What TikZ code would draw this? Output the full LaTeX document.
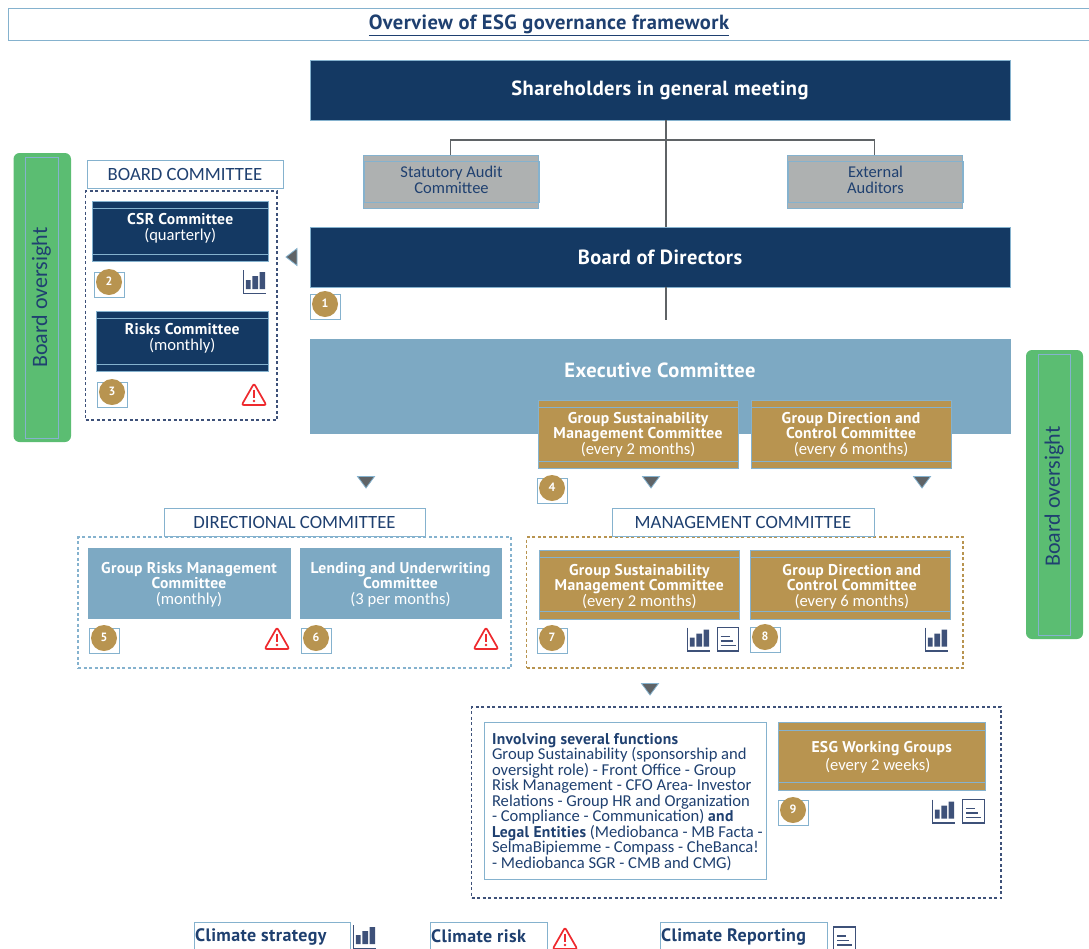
\documentclass[tikz,border=0pt]{standalone}
\usepackage{fontspec}
\setmainfont{PT Sans}
\newfontfamily\bfs[LetterSpace=2]{PT Sans Bold}
\newfontfamily\lts{Carlito}
\definecolor{navyc}{HTML}{143963}
\definecolor{bluec}{HTML}{7DA9C3}
\definecolor{goldc}{HTML}{B89450}
\definecolor{greyc}{HTML}{AEB1B1}
\definecolor{greenc}{HTML}{5BBD72}
\definecolor{textc}{HTML}{1F4070}
\definecolor{bordc}{HTML}{85B2CE}
\definecolor{iconc}{HTML}{3E5179}
\definecolor{redc}{HTML}{EE2A2E}
\definecolor{linec}{HTML}{5F6366}
\newcommand\tx[2]{\smash{\makebox[0pt]{\raisebox{#1pt}{\parbox[c]{420pt}{\lineskiplimit=-100pt\relax\centering #2}}}}}
\newcommand\tl[2]{\smash{\makebox[0pt]{\raisebox{#1pt}{\parbox[c]{275pt}{\lineskiplimit=-100pt\relax\raggedright #2}}}}}
\newcommand\bb[1]{{\fontsize{15.6}{15.5}\selectfont\bfs #1}}
\newcommand\ltt{\lts\fontsize{16.6}{15.5}\selectfont}
\newcommand\bx[7]{\node[#2,minimum width={(#5)-(#3)},minimum height={(#6)-(#4)}] (#1) at ({((#3)+(#5))/2},{((#4)+(#6))/2}) {#7};}
\newcommand\band[2]{\draw[bandline] ([yshift=-#2pt]#1.north west) -- ([yshift=-#2pt]#1.north east) ([yshift=#2pt]#1.south west) -- ([yshift=#2pt]#1.south east);}
\newcommand\badge[3]{\bx{box#1}{box}{(#2)-15}{(#3)-10}{(#2)+15}{(#3)+15}{}
\node[badgec] (num#1) at (#2,#3) {\raisebox{1pt}{#1}};}
\tikzset{
 x=1pt,y=-1pt,
 box/.style={draw=bordc,line width=.9pt,inner sep=0pt,outer sep=0pt,fill=none},
 fa/.style={font=\fontsize{15.6}{15.5}\selectfont},
 navybox/.style={box,fill=navyc,text=white,fa},
 bluebox/.style={box,fill=bluec,draw=bluec,text=white,fa},
 goldbox/.style={box,fill=goldc,text=white,fa},
 greybox/.style={box,fill=greyc,text=textc,font=\fontsize{16.5}{16}\selectfont},
 whitebox/.style={box,fill=white,text=textc,fa},
 headbox/.style={box,fill=white,text=textc,font=\fontsize{18.7}{20}\selectfont\lts},
 bigbold/.style={font=\fontsize{20.5}{22}\selectfont\bfs},
 greenbar/.style={draw=none,fill=greenc,rounded corners=6pt,inner sep=0pt,outer sep=0pt},
 sidebox/.style={box,text=textc,font=\fontsize{22}{22}\selectfont\lts},
 dashbox/.style={draw=#1,line width=1.2pt,dash pattern=on 3pt off 2.5pt,fill=none,inner sep=0pt,outer sep=0pt},
 bandline/.style={draw=bordc,line width=.9pt},
 conn/.style={draw=linec,line width=1.3pt},
 legend/.style={anchor=west,inner sep=0pt,text=textc,font=\fontsize{18}{19}\selectfont\bfs},
 badgec/.style={circle,fill=goldc,text=white,minimum size=26pt,inner sep=0pt,outer sep=0pt,font=\fontsize{12}{12}\selectfont\bfs},
 chart/.pic={
  \draw[iconc,line width=1.2pt] (0.6,0) -- (0.6,23.4) -- (23,23.4);
  \fill[iconc] (2.9,10) rectangle (7.5,19) (9.3,6) rectangle (15,19) (16.7,2) rectangle (22,19);
 },
 docicon/.pic={
  \draw[iconc,line width=1.3pt] (0.7,0) -- (0.7,23.4) -- (22.3,23.4) -- (22.3,0) -- cycle;
  \draw[iconc,line width=1.3pt] (4,9) -- (13,9) (4,13.5) -- (16,13.5) (4,18) -- (19,18);
 },
 warn/.pic={
  \draw[redc,line width=1.7pt,line join=round,rounded corners=2pt] (13,1.5) -- (25.3,23) -- (0.7,23) -- cycle;
  \draw[redc,line width=2.2pt] (13,7.5) -- (13,15.5);
  \fill[redc] (13,19) circle (1.4pt);
 },
 tridown/.pic={
  \draw[fill=linec,draw=bordc,line width=.8pt] (-8.5,-5.5) -- (8.5,-5.5) -- (0,6) -- cycle;
 },
 trileft/.pic={
  \draw[fill=linec,draw=bordc,line width=.8pt] (5.5,-8.5) -- (5.5,8.5) -- (-5.5,0) -- cycle;
 },
}
\begin{document}
\begin{tikzpicture}
\useasboundingbox (0,0) rectangle (1089,948);
\clip (0,0) rectangle (1089,948);
% title
\bx{title}{whitebox}{8}{8}{1095}{40}{\tx{-5.4}{\fontsize{20.5}{22}\selectfont\bfs\underline{Overview of ESG governance framework}\kern5pt}}
% bars
\bx{barL}{greenbar}{13.5}{153}{71}{442}{}
\bx{barLi}{sidebox}{25}{157}{58}{438}{\rotatebox{90}{Board oversight}}
\bx{barR}{greenbar}{1026}{350}{1083}{639}{}
\bx{barRi}{sidebox}{1038}{354}{1070}{635}{\rotatebox{90}{Board oversight\kern4pt}}
% board committee
\bx{bch}{headbox}{87}{160}{283}{188}{BOARD COMMITTEE}
\bx{bcd}{dashbox=iconc}{85.5}{191}{277}{420}{}
\bx{csr}{navybox}{92.5}{201}{268}{261}{\tx{-1}{\bb{CSR Committee}\\\ltt (quarterly)}}
\band{csr}{7}
\bx{risk}{navybox}{96.5}{311}{268}{371}{\tx{-1}{\bb{Risks Committee}\\\ltt (monthly)}}
\band{risk}{7}
\badge{2}{109}{282}
\badge{3}{112}{392}
\pic at (243,270) {chart};
\pic at (241,382) {warn};
% main column
\bx{sh}{navybox,bigbold}{310}{60}{1010}{120}{Shareholders in general meeting}
\bx{bod}{navybox,bigbold}{310}{227}{1010}{287}{Board of Directors}
\bx{exec}{bluebox,bigbold}{310}{339}{1010}{433}{\tx{10}{Executive Committee}}
\badge{1}{325}{304}
\pic at (291.5,257) {trileft};
\bx{aud}{greybox}{363}{155}{538}{208}{\kern2pt\tx{-3}{\lts Statutory Audit\\\lts Committee}}
\draw[bandline] (364,161) rectangle (539.5,202);
\bx{ext}{greybox}{787}{155}{962}{208}{\kern2pt\tx{-3}{\lts External\\\lts Auditors}}
\draw[bandline] (788,161) rectangle (963.5,202);
\coordinate (jt) at (666,140);
\coordinate (bodend) at (666,320);
\draw[conn] (sh.south -| jt) -- (bod.north -| jt);
\draw[conn] (aud.north) |- (jt) -| (ext.north);
\draw[conn] (bod.south -| jt) -- (bodend);
% gold top
\bx{g1}{goldbox}{538}{400}{738}{468}{\tx{-4}{\bb{Group Sustainability}\\\bb{Management Committee}\\\ltt (every 2 months)}}
\band{g1}{7}
\bx{g2}{goldbox}{751}{400}{951}{468}{\tx{-4}{\bb{Group Direction and}\\\bb{Control Committee}\\\ltt (every 6 months)}}
\band{g2}{7}
\badge{4}{552}{488}
\pic at (366,482) {tridown};
\pic at (651,482) {tridown};
\pic at (922,482) {tridown};
% directional
\bx{dcd}{dashbox=bordc}{78}{537}{511}{668}{}
\bx{dch}{headbox}{164}{508}{425}{536}{DIRECTIONAL COMMITTEE}
\bx{grm}{bluebox}{88}{548}{290}{618}{\tx{-5}{\bb{Group Risks Management}\\\bb{Committee}\\\ltt (monthly)}}
\bx{lu}{bluebox}{300}{548}{501}{618}{\tx{-5}{\bb{Lending and Underwriting}\\\bb{Committee}\\\ltt (3 per months)}}
\badge{5}{104}{638}
\badge{6}{316}{638}
\pic at (264,626) {warn};
\pic at (473,626) {warn};
% management
\bx{mcd}{dashbox=goldc}{526.5}{537}{963}{668}{}
\bx{mch}{headbox}{612}{508}{874}{536}{MANAGEMENT COMMITTEE}
\bx{g7}{goldbox}{539}{550}{739.5}{619}{\tx{-5.5}{\bb{Group Sustainability}\\\bb{Management Committee}\\\ltt (every 2 months)}}
\band{g7}{7.5}
\bx{g8}{goldbox}{750}{550}{950.5}{619}{\kern3pt\tx{-5.5}{\bb{Group Direction and}\\\bb{Control Committee}\\\ltt (every 6 months)}}
\band{g8}{7.5}
\badge{7}{552}{638}
\badge{8}{765}{637}
\pic at (687,627.5) {chart};
\pic at (716.5,627.5) {docicon};
\pic at (925,627.5) {chart};
\pic at (650,689) {tridown};
% working groups
\bx{wgd}{dashbox=iconc}{471.5}{707}{1001}{898}{}
\bx{fn}{whitebox}{484.5}{722.5}{766}{879}{\kern8.5pt\tl{-4.5}{\bb{Involving several functions}\\\ltt Group Sustainability (sponsorship and\\oversight role) - Front Office - Group\\Risk Management - CFO Area- Investor\\Relations - Group HR and Organization\\- Compliance - Communication) \bb{and}\\\bb{Legal Entities} (Mediobanca - MB Facta -\\SelmaBipiemme - Compass - CheBanca!\\- Mediobanca SGR - CMB and CMG)}}
\bx{wg}{goldbox}{778}{722}{985.5}{790}{\tx{-5}{\bb{ESG Working Groups}\\\ltt (every 2 weeks)\kern8pt\setlength\baselineskip{18pt}}}
\band{wg}{8}
\badge{9}{793}{810}
\pic at (932,799.5) {chart};
\pic at (962,799.5) {docicon};
% legend
\bx{l1}{whitebox}{194}{922}{350}{960}{}
\node[legend] (l1t) at (195,936.5) {Climate strategy};
\pic at (353,925) {chart};
\bx{l2}{whitebox}{430}{922}{547}{960}{}
\node[legend] (l2t) at (431,936.5) {Climate risk};
\pic at (552,926) {warn};
\bx{l3}{whitebox}{660}{922}{827}{960}{}
\node[legend] (l3t) at (661,936.5) {Climate Reporting};
\pic at (833,927) {docicon};
\end{tikzpicture}
\end{document}
